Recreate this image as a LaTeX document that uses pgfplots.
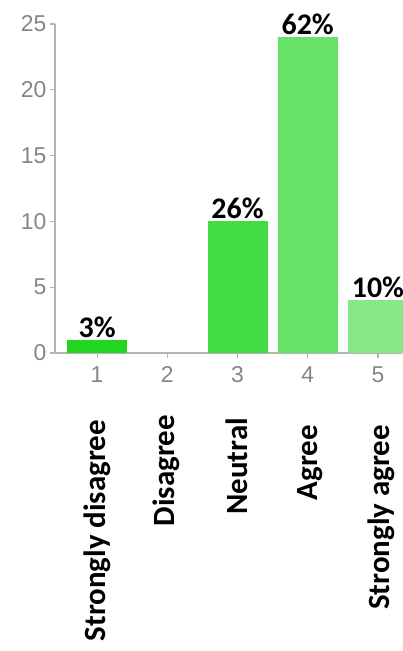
\documentclass[border=0pt]{standalone}
\usepackage{fontspec}
\usepackage{pgfplots}
\pgfplotsset{compat=1.18}
\setmainfont{Liberation Sans}
\newfontfamily\calb{Carlito}
\definecolor{axgray}{HTML}{B4B4B4}
\definecolor{tickgray}{HTML}{858585}
\definecolor{cA}{HTML}{22D622}
\definecolor{cB}{HTML}{44DC44}
\definecolor{cC}{HTML}{66E266}
\definecolor{cD}{HTML}{88E888}
\newcommand{\pctfont}{\calb\bfseries\fontsize{30}{32}\selectfont}
\newcommand{\catfont}{\calb\bfseries\fontsize{31}{33}\selectfont}
\begin{document}
\begin{tikzpicture}[x=1bp,y=1bp]
\begin{axis}[
  at={(0,0)}, anchor=south west,
  scale only axis, width=347bp, height=329bp,
  xmin=0.4, xmax=5.343, ymin=0, ymax=25,
  axis lines*=left,
  axis line style={axgray, line width=1.6bp},
  xtick={1,2,3,4,5}, ytick={0,5,10,15,20,25},
  tick style={axgray, line width=1.2bp},
  tick align=outside, major tick length=5bp,
  ticklabel style={tickgray, font=\fontsize{23}{25}\selectfont},
  xticklabel style={yshift=-5bp},
  /pgf/number format/assume math mode=true,
  ybar, bar width=60bp, clip=false,
  nodes near coords style={black, font=\pctfont, anchor=south, inner sep=2bp},
]
\addplot[fill=cA, draw=none, bar shift=0pt, nodes near coords={3\%}] coordinates {(1,1)};
\addplot[fill=none, draw=none, bar shift=0pt] coordinates {(2,0)};
\addplot[fill=cB, draw=none, bar shift=0pt, nodes near coords={26\%}] coordinates {(3,10)};
\addplot[fill=cC, draw=none, bar shift=0pt, nodes near coords={62\%}] coordinates {(4,24)};
\addplot[fill=cD, draw=none, bar shift=0pt, nodes near coords={10\%}] coordinates {(5,4)};
\end{axis}
\node[rotate=90, anchor=east, inner sep=0pt, font=\catfont] at (42,-67) {Strongly disagree};
\node[rotate=90, anchor=east, inner sep=0pt, font=\catfont] at (111,-62) {Disagree};
\node[rotate=90, anchor=east, inner sep=0pt, font=\catfont] at (182,-65) {Neutral};
\node[rotate=90, anchor=east, inner sep=0pt, font=\catfont] at (255,-72) {Agree};
\node[rotate=90, anchor=east, inner sep=0pt, font=\catfont] at (326,-72) {Strongly agree};
\pgfresetboundingbox
\useasboundingbox (-55,-298) rectangle (347,353);
\end{tikzpicture}
\end{document}
